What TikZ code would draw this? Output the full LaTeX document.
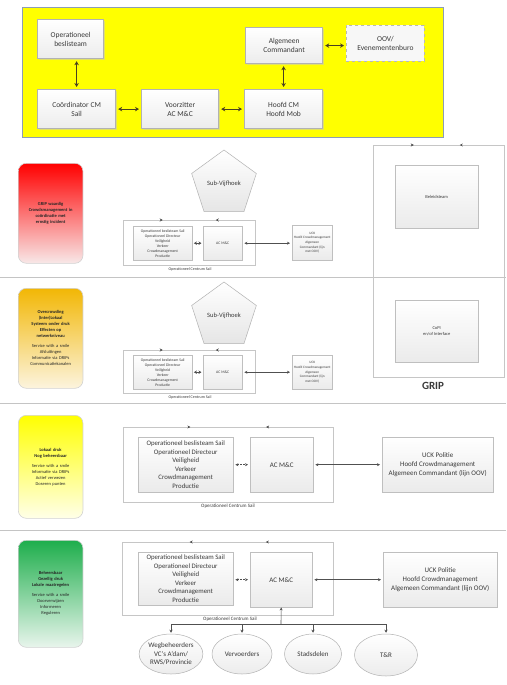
\documentclass[tikz,border=0pt]{standalone}
\usepackage{fontspec}
\setmainfont{Carlito}
\usetikzlibrary{shapes.geometric,arrows.meta,shadows,decorations.markings,calc}
\definecolor{txt}{HTML}{3A3A3A}
\definecolor{olivearr}{HTML}{4A4020}
\definecolor{ybg}{HTML}{FFFF00}
\definecolor{yborder}{HTML}{8C9DB5}
\definecolor{redtop}{HTML}{FF0000}
\definecolor{redbot}{HTML}{F8E8E8}
\definecolor{orgtop}{HTML}{F2B705}
\definecolor{orgbot}{HTML}{FCF4DE}
\definecolor{yeltop}{HTML}{FFFF00}
\definecolor{yelbot}{HTML}{FFFFE8}
\definecolor{grntop}{HTML}{1EAE4C}
\definecolor{grnbot}{HTML}{E8F5EC}
\definecolor{sepcol}{HTML}{C4C4C4}
\definecolor{arrcol}{HTML}{505050}
\tikzset{
  tb/.style={draw=gray!60, line width=1.2pt, top color=white, bottom color=gray!15,
    drop shadow={shadow xshift=1.2pt, shadow yshift=-1.2pt, fill=gray!45},
    text=txt, font=\fontsize{7.5}{9}\selectfont, align=center, anchor=north west, inner sep=1pt},
  oarr/.style={{Stealth[length=4pt,width=4.5pt]}-{Stealth[length=4pt,width=4.5pt]}, line width=1.2pt, draw=olivearr, shorten <=2pt, shorten >=2pt},
  lbl/.style={rounded corners=8pt, draw=gray!35, line width=0.6pt, minimum width=64, text width=58,
    align=center, anchor=north west, text=black!85, font=\fontsize{4.5}{6}\selectfont},
  pent/.style={regular polygon, regular polygon sides=5, minimum size=68, draw=gray!60, line width=0.5pt,
    top color=white, bottom color=gray!20, text=txt, font=\fontsize{6.5}{8}\selectfont, inner sep=0pt},
  sb/.style={draw=gray!50, line width=0.4pt, top color=white, bottom color=gray!16,
    drop shadow={shadow xshift=0.8pt, shadow yshift=-0.8pt, fill=gray!30},
    text=txt, align=center, anchor=north west, inner sep=1pt},
  cont/.style={draw=gray!45, line width=0.5pt, anchor=north west, inner sep=0pt},
  topline/.style 2 args={draw=gray!45, line width=0.5pt, decoration={markings,
      mark=at position #1 with {\arrow[arrcol]{Stealth[length=3pt,width=3pt]}},
      mark=at position #2 with {\arrowreversed[arrcol]{Stealth[length=3pt,width=3pt]}}}, postaction=decorate},
  clabel/.style={text=txt, inner sep=0pt},
  sarr/.style={{Stealth[length=3pt,width=3.5pt]}-{Stealth[length=3pt,width=3.5pt]}, line width=1pt, draw=arrcol, shorten <=1.5pt, shorten >=1.5pt},
  larr/.style={{Stealth[length=3pt,width=3pt]}-{Stealth[length=3pt,width=3pt]}, line width=0.5pt, draw=arrcol, shorten <=2pt, shorten >=2pt},
  darr/.style={{Stealth[length=3pt,width=3pt]}-{Stealth[length=3pt,width=3pt]}, line width=0.5pt, draw=arrcol, dash pattern=on 2pt off 1pt, shorten <=2pt, shorten >=2pt},
  ell/.style={ellipse, draw=gray!60, line width=0.5pt, top color=white, bottom color=gray!15,
    text=txt, align=center, inner sep=0pt, font=\fontsize{7}{8.5}\selectfont},
  sep/.style={draw=sepcol, line width=0.8pt}
}
\begin{document}
\begin{tikzpicture}[x=1pt,y=-1pt]
\useasboundingbox (0,0) rectangle (506,685);
\fill[white] (0,0) rectangle (506,685);

% ---------- top yellow panel ----------
\node[draw=yborder, line width=1pt, fill=ybg, minimum width=421, minimum height=130, anchor=north west, inner sep=0pt] (panel) at (22,7) {};
\node[tb, minimum width=66, minimum height=39] (ob) at (37,19) {Operationeel\\beslisteam};
\node[tb, minimum width=77, minimum height=36] (ac) at (245,27) {Algemeen\\Commandant};
\node[draw=gray!55, line width=0.8pt, dashed, fill=gray!6, text=txt, font=\fontsize{7.5}{9}\selectfont,
  align=center, anchor=north west, inner sep=1pt, minimum width=78, minimum height=36] (oov) at (346,25) {OOV/\\Evenementenburo};
\node[tb, minimum width=78, minimum height=39] (co) at (37,89) {Coördinator CM\\Sail};
\node[tb, minimum width=77, minimum height=39] (vz) at (141,89) {Voorzitter\\AC M\&C};
\node[tb, minimum width=78, minimum height=39] (hf) at (244,89) {Hoofd CM\\Hoofd Mob};
\draw[oarr] (co.north |- ob.south) -- (co.north);
\draw[oarr] (co) -- (vz);
\draw[oarr] (vz) -- (hf);
\draw[oarr] (hf.north) -- (hf.north |- ac.south);
\draw[oarr] (ac.east) -- (ac.east -| oov.west);

% ---------- separators ----------
\draw[sep] (0,277) -- (506,277);
\draw[sep] (0,403) -- (506,403);
\draw[sep] (0,530) -- (506,530);

% ---------- GRIP ----------
\node[cont, minimum width=131, minimum height=232] (grip) at (373,145) {};
\draw[topline={0.31}{0.66}] (grip.north west) -- (grip.north east);
\node[sb, minimum width=83, minimum height=63, font=\fontsize{4.5}{5.5}\selectfont] (bt) at (395,165) {Beleidsteam};
\node[sb, minimum width=83, minimum height=62, font=\fontsize{4.5}{5.5}\selectfont] (copi) at (395,300) {CoPI\\en/of Interface};
\node[text=txt, font=\bfseries\fontsize{11}{13}\selectfont] (griplbl) at (433,386) {GRIP};

% ---------- section 1 (red) ----------
\node[lbl, minimum height=100, top color=redtop, bottom color=redbot] (lb1) at (18,163)
  {\bfseries GRIP waardig\\Crowdsmanagement in\\coördinatie met\\ernstig incident};
\node[pent] (p1) at (224,184) {Sub-Vijfhoek};
\node[cont, minimum width=132, minimum height=45] (c1) at (123,220) {};
\draw[topline={0.30}{0.70}] (c1.north west) -- (c1.north east);
\node[sb, minimum width=59, minimum height=34, font=\fontsize{3.8}{5}\selectfont] (l1) at (133,226)
  {Operationeel beslisteam Sail\\Operationeel Directeur\\Veiligheid\\Verkeer\\Crowdmanagement\\Productie};
\node[sb, minimum width=39, minimum height=34, font=\fontsize{3.8}{5}\selectfont] (a1) at (203,226) {AC M\&C};
\node[sb, minimum width=40, minimum height=35, font=\fontsize{3.4}{4.6}\selectfont] (u1) at (292,225)
  {UCK\\Hoofd Crowdmanagement\\Algemeen\\Commandant (lijn\\met OOV)};
\node[clabel, font=\fontsize{4}{5}\selectfont] (cl1) at (190,269) {Operationeel Centrum Sail};
\draw[sarr] (l1) -- (a1);
\draw[larr] (a1.east) -- (a1.east -| u1.west);

% ---------- section 2 (orange) ----------
\node[lbl, minimum height=100, top color=orgtop, bottom color=orgbot] (lb2) at (18,288)
  {\bfseries Overcrowding\\(Inter)Lokaal\\Systeem onder druk\\Effecten op\\netwerkniveau\\[4pt]
   \mdseries Service with a smile\\Afsluitingen\\Informatie via DRIPs\\Communicatiekanalen};
\node[pent] (p2) at (224,316) {Sub-Vijfhoek};
\node[cont, minimum width=132, minimum height=43] (c2) at (123,350) {};
\draw[topline={0.30}{0.70}] (c2.north west) -- (c2.north east);
\node[sb, minimum width=59, minimum height=34, font=\fontsize{3.8}{5}\selectfont] (l2) at (133,355)
  {Operationeel beslisteam Sail\\Operationeel Directeur\\Veiligheid\\Verkeer\\Crowdmanagement\\Productie};
\node[sb, minimum width=39, minimum height=34, font=\fontsize{3.8}{5}\selectfont] (a2) at (203,355) {AC M\&C};
\node[sb, minimum width=40, minimum height=34, font=\fontsize{3.4}{4.6}\selectfont] (u2) at (292,355)
  {UCK\\Hoofd Crowdmanagement\\Algemeen\\Commandant (lijn\\met OOV)};
\node[clabel, font=\fontsize{4}{5}\selectfont] (cl2) at (190,397) {Operationeel Centrum Sail};
\draw[sarr] (l2) -- (a2);
\draw[larr] (a2.east) -- (a2.east -| u2.west);

% ---------- section 3 (yellow) ----------
\node[lbl, minimum height=103, top color=yeltop, bottom color=yelbot] (lb3) at (18,415)
  {\bfseries Lokaal druk\\Nog beheersbaar\\[4pt]
   \mdseries Service with a smile\\Informatie via DRIPs\\Actief verwezen\\Doseren punten};
\node[cont, minimum width=210, minimum height=75] (c3) at (123,427) {};
\draw[topline={0.32}{0.68}] (c3.north west) -- (c3.north east);
\node[sb, minimum width=95, minimum height=55, font=\fontsize{6.8}{8.6}\selectfont] (l3) at (138,437)
  {Operationeel beslisteam Sail\\Operationeel Directeur\\Veiligheid\\Verkeer\\Crowdmanagement\\Productie};
\node[sb, minimum width=63, minimum height=55, font=\fontsize{7}{8.5}\selectfont] (a3) at (250,437) {AC M\&C};
\node[sb, minimum width=111, minimum height=55, font=\fontsize{7}{8.6}\selectfont] (u3) at (382,437)
  {UCK Politie\\Hoofd Crowdmanagement\\Algemeen Commandant (lijn OOV)};
\node[clabel, font=\fontsize{5}{6}\selectfont] (cl3) at (228,506) {Operationeel Centrum Sail};
\draw[darr] (a3.west -| l3.east) -- (a3.west);
\draw[larr] (a3.east) -- (a3.east -| u3.west);

% ---------- section 4 (green) ----------
\node[lbl, minimum height=107, top color=grntop, bottom color=grnbot] (lb4) at (18,540)
  {\bfseries Beheersbaar\\Gezellig druk\\Lokale maatregelen\\[4pt]
   \mdseries Service with a smile\\Doorverwijzen\\Informeren\\Reguleren};
\node[cont, minimum width=211, minimum height=73] (c4) at (122,542) {};
\draw[draw=gray!45, line width=0.5pt, decoration={markings,
      mark=at position 0.32 with {\arrowreversed[arrcol]{Stealth[length=3pt,width=3pt]}},
      mark=at position 0.68 with {\arrowreversed[arrcol]{Stealth[length=3pt,width=3pt]}}}, postaction=decorate]
  (c4.north west) -- (c4.north east);
\node[sb, minimum width=95, minimum height=53, font=\fontsize{6.8}{8.6}\selectfont] (l4) at (138,552)
  {Operationeel beslisteam Sail\\Operationeel Directeur\\Veiligheid\\Verkeer\\Crowdmanagement\\Productie};
\node[sb, minimum width=62, minimum height=55, font=\fontsize{7}{8.5}\selectfont] (a4) at (250,552) {AC M\&C};
\node[sb, minimum width=114, minimum height=55, font=\fontsize{7}{8.6}\selectfont] (u4) at (383,552)
  {UCK Politie\\Hoofd Crowdmanagement\\Algemeen Commandant (lijn OOV)};
\node[clabel, font=\fontsize{5}{6}\selectfont] (cl4) at (230,619) {Operationeel Centrum Sail};
\draw[darr] (a4.west -| l4.east) -- (a4.west);
\draw[larr] (a4.east) -- (a4.east -| u4.west);

% ellipses
\node[ell, minimum width=62, minimum height=40] (W) at (171,654) {Wegbeheerders\\VC's A'dam/\\RWS/Provincie};
\node[ell, minimum width=60, minimum height=40] (V) at (242,654) {Vervoerders};
\node[ell, minimum width=57, minimum height=40] (S) at (313,654) {Stadsdelen};
\node[ell, minimum width=63, minimum height=42] (T) at (386,655) {T\&R};
\coordinate (bj) at (281,624);
\draw[{Stealth[length=3pt,width=3pt]}-, line width=0.6pt, draw=arrcol] (a4.south) -- (bj);
\draw[line width=0.6pt, draw=arrcol] (W.north |- bj) -- (T.north |- bj);
\foreach \e in {W,V,S,T}
  \draw[-{Stealth[length=3pt,width=3pt]}, line width=0.6pt, draw=arrcol, shorten >=1pt] (\e.north |- bj) -- (\e.north);
\end{tikzpicture}
\end{document}
